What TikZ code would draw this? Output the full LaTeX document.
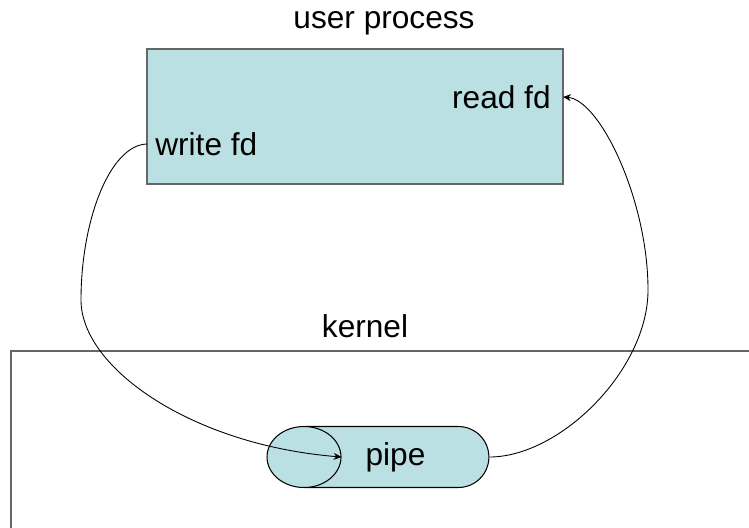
\documentclass[tikz,border=0pt]{standalone}
\usepackage{fontspec}
\setmainfont{Liberation Sans}
\usetikzlibrary{positioning, arrows.meta, shapes.geometric, shapes.misc}
\definecolor{procfill}{HTML}{BBE0E3}
\definecolor{boxline}{HTML}{666666}
\begin{document}
\begin{tikzpicture}[
        x=0.02cm, y=-0.02cm,
        >={Stealth[length=4.5pt, width=4pt]},
        every node/.style={font=\fontsize{18pt}{21.6pt}\selectfont},
        procbox/.style={draw=boxline, line width=0.8pt, fill=procfill, rectangle, inner sep=0pt},
        kernbox/.style={draw=boxline, line width=0.8pt, rectangle, inner sep=0pt},
        pipebody/.style={draw, line width=0.6pt, fill=procfill, rounded rectangle, rounded rectangle left arc=none, minimum width=3.66cm, minimum height=1.22cm, inner sep=0pt},
        pipeface/.style={draw, line width=0.6pt, fill=procfill, ellipse, minimum width=1.48cm, minimum height=1.22cm, inner sep=0pt},
        fdlabel/.style={inner ysep=0pt},
        conn/.style={line width=0.5pt}
        ]

        % Page
        \useasboundingbox (0,0) rectangle (749,527);
        \clip (0,0) rectangle (749,527);

        % Nodes
        \node[kernbox, minimum width=15.78cm, minimum height=4.98cm] (Kernel) at (405.5,475.5) {};
        \node[anchor=base] (KernelTitle) at (365,337) {kernel};
        \node[procbox, minimum width=8.32cm, minimum height=2.7cm] (User) at (355,116.5) {};
        \node[anchor=base] (UserTitle) at (384,29) {user process};
        \node[fdlabel, anchor=east, inner xsep=0.24cm] (ReadFd) at (563,97) {read fd};
        \node[fdlabel, anchor=west, inner xsep=0.16cm] (WriteFd) at (147,144) {write fd};
        \node[pipebody] (Pipe) at (395.5,457) {pipe};
        \node[pipeface] (PipeEnd) at (304,457) {};

        % Arrows
        % write fd -> pipe
        \draw[conn, ->] (WriteFd.west) .. controls (110,145) and (81,220) .. (81,300)
            .. controls (81,368) and (192,445) .. (PipeEnd.east);

        % pipe -> read fd
        \draw[conn, ->] (Pipe.east) .. controls (560,457) and (648,370) .. (648,290)
            .. controls (648,200) and (600,100) .. (ReadFd.east);

    \end{tikzpicture}
\end{document}
